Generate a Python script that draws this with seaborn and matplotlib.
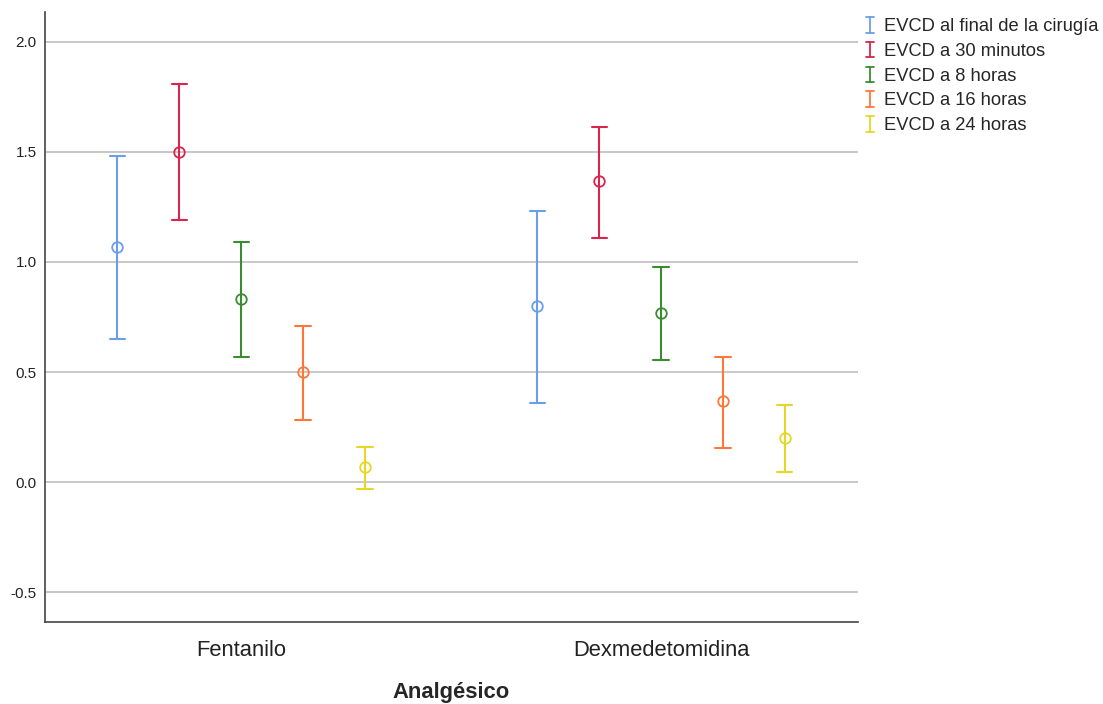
import matplotlib
matplotlib.use("Agg")
import matplotlib.pyplot as plt
import seaborn as sns
import pandas as pd
from matplotlib.lines import Line2D
from matplotlib.legend_handler import HandlerBase

# datos (media e IC 95%)
grupos = ["Fentanilo", "Dexmedetomidina"]
series = ["EVCD al final de la cirugía", "EVCD a 30 minutos", "EVCD a 8 horas",
          "EVCD a 16 horas", "EVCD a 24 horas"]
colores = ["#6a9eea", "#d9244f", "#3b8c30", "#ff763a", "#e6d724"]

media_fent = [1.07, 1.50, 0.83, 0.50, 0.07]
inf_fent = [0.65, 1.19, 0.57, 0.28, -0.03]
sup_fent = [1.48, 1.81, 1.09, 0.71, 0.16]

media_dex = [0.80, 1.37, 0.77, 0.37, 0.20]
inf_dex = [0.36, 1.11, 0.555, 0.155, 0.045]
sup_dex = [1.23, 1.615, 0.975, 0.57, 0.35]


class CapHandler(HandlerBase):
    # dibuja una "I" (barra de error) en la leyenda
    def create_artists(self, legend, orig_handle, xdescent, ydescent, width, height, fontsize, trans):
        c = orig_handle.get_color()
        cx = -xdescent + width / 2
        y0 = -ydescent - 1
        y1 = -ydescent + height + 1
        w = 3
        arts = [Line2D([cx, cx], [y0, y1], color=c, lw=1.3),
                Line2D([cx - w, cx + w], [y0, y0], color=c, lw=1.3),
                Line2D([cx - w, cx + w], [y1, y1], color=c, lw=1.3)]
        for a in arts:
            a.set_transform(trans)
        return arts


def main():
    sns.set_style("white")
    plt.rcParams['font.family'] = ['Liberation Sans', 'DejaVu Sans']

    filas = []
    for g, med, lo, hi in [(grupos[0], media_fent, inf_fent, sup_fent),
                           (grupos[1], media_dex, inf_dex, sup_dex)]:
        for s, m, a, b in zip(series, med, lo, hi):
            for v in (a, m, b):
                filas.append({"Analgésico": g, "serie": s, "valor": v})
    df = pd.DataFrame(filas)

    fig = plt.figure(figsize=(11.03, 7.04), dpi=100)
    ax = fig.add_axes([45 / 1103, 1 - 622 / 704, (858 - 45) / 1103, (622 - 12) / 704])

    sns.pointplot(data=df, x="Analgésico", y="valor", hue="serie", order=grupos,
                  hue_order=series, palette=colores, estimator="median",
                  errorbar=("pi", 100), dodge=0.59, linestyles="none", capsize=0.036,
                  markers="o", markersize=7.6, markeredgewidth=1.3, markerfacecolor="none",
                  err_kws={"linewidth": 1.5}, legend=False, ax=ax)

    for ln in ax.lines:
        ln.set_markerfacecolor("none")

    ax.set_xlim(-0.467, 1.469)
    ax.set_ylim(-0.636, 2.136)
    ax.set_yticks([-0.5, 0.0, 0.5, 1.0, 1.5, 2.0])
    ax.set_yticklabels(["-0.5", "0.0", "0.5", "1.0", "1.5", "2.0"])
    ax.yaxis.grid(True, color="#c8c8c8", linewidth=1.4)
    ax.set_axisbelow(True)
    ax.tick_params(axis="y", length=0, pad=6, labelsize=11, labelcolor="#222222")
    ax.tick_params(axis="x", length=0, pad=13, labelsize=15.8, labelcolor="#222222")
    sns.despine(ax=ax)
    for sp in ["left", "bottom"]:
        ax.spines[sp].set_color("#444444")
        ax.spines[sp].set_linewidth(1.2)

    ax.set_ylabel("")
    ax.set_xlabel("Analgésico", fontsize=15.8, fontweight="bold", labelpad=15)

    handles = [Line2D([], [], color=c) for c in colores]
    fig.legend(handles, series, handler_map={Line2D: CapHandler()},
               loc="upper left", bbox_to_anchor=(856 / 1103, 1 - 11 / 704),
               frameon=False, fontsize=13.2, handlelength=0.7, handletextpad=0.45,
               labelspacing=0.42, borderaxespad=0)

    fig.savefig("out.png", dpi=100)


if __name__ == '__main__':
    main()
